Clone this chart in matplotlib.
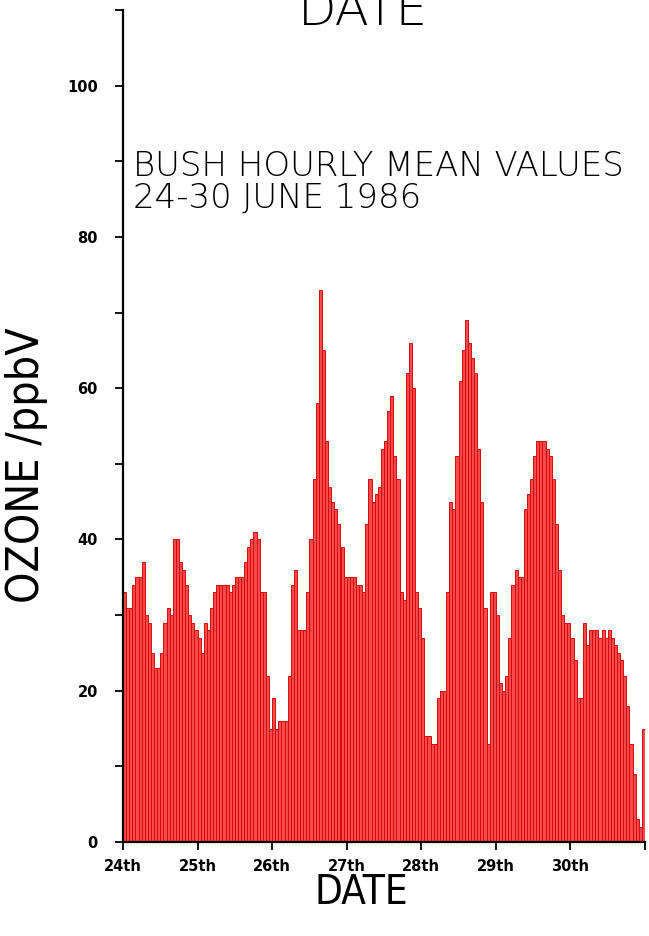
import matplotlib
matplotlib.use("Agg")
import matplotlib.pyplot as plt
import numpy as np

# hourly mean ozone (ppbV), Bush, 24-30 June 1986, one list per day (24 values each)
day24 = [33, 31, 31, 34, 35, 35, 37, 30, 29, 25, 23, 23, 25, 29, 31, 30, 40, 40, 37, 36, 34, 30, 29, 28]
day25 = [27, 25, 29, 28, 31, 33, 34, 34, 34, 34, 33, 34, 35, 35, 35, 37, 39, 40, 41, 40, 33, 33, 22, 15]
day26 = [19, 15, 16, 16, 16, 22, 34, 36, 28, 28, 28, 33, 40, 48, 58, 73, 65, 53, 47, 45, 44, 42, 39, 35]
day27 = [35, 35, 35, 34, 34, 33, 42, 48, 45, 46, 47, 52, 53, 57, 59, 51, 48, 33, 32, 62, 66, 60, 33, 31]
day28 = [27, 14, 14, 13, 13, 19, 20, 20, 33, 45, 44, 51, 61, 65, 69, 66, 64, 62, 52, 45, 31, 13, 33, 33]
day29 = [30, 21, 20, 22, 27, 34, 36, 35, 35, 44, 46, 48, 51, 53, 53, 53, 52, 51, 48, 42, 36, 30, 29, 29]
day30 = [27, 24, 19, 19, 29, 26, 28, 28, 28, 27, 28, 27, 28, 27, 26, 25, 24, 22, 18, 13, 9, 3, 2, 15]

day_labels = ["24th", "25th", "26th", "27th", "28th", "29th", "30th", ""]

ozone = np.array(day24 + day25 + day26 + day27 + day28 + day29 + day30)
hours = np.arange(len(ozone))

W, H = 649, 936
fig = plt.figure(figsize=(W / 100, H / 100), dpi=100)
ax = fig.add_axes([123 / W, 94 / H, 522 / W, 832 / H])

ax.bar(hours, ozone, width=1.0, align="edge",
       color="#f44a4a", edgecolor="#d80808", linewidth=0.7)

ax.set_xlim(0, 168)
ax.set_ylim(0, 110)

for s in ("top", "right"):
    ax.spines[s].set_visible(False)
for s in ("left", "bottom"):
    ax.spines[s].set_linewidth(1.6)
    ax.spines[s].set_color("black")

ax.set_xticks(np.arange(0, 169, 24))
ax.set_xticklabels(day_labels, fontsize=10.5, fontweight="bold")
ax.set_yticks(np.arange(0, 101, 20))
ax.set_yticklabels([str(v) for v in range(0, 101, 20)], fontsize=10.5, fontweight="bold")
ax.set_yticks(np.arange(10, 111, 20), minor=True)
ax.tick_params(axis="both", which="both", direction="out", length=6, width=1.3, colors="black")
ax.tick_params(axis="y", which="major", pad=12)
ax.tick_params(axis="x", which="major", pad=6)

txt = dict(color="black", fontweight="light", family=["DejaVu Sans"])
# title block inside the axes, two tight lines in one text
ax.text(3.2, 83.8, "BUSH HOURLY MEAN VALUES\n24-30 JUNE 1986", fontsize=24.5,
        va="baseline", linespacing=0.95, **txt)

# axis labels (narrow lettering like the plotter font)
fig.text(361 / W, 1 - 904 / H, "DATE", fontsize=29, ha="center", va="baseline",
         fontstretch="condensed", **txt)
fig.text(363 / W, 1 - 25 / H, "DATE", fontsize=36, ha="center", va="baseline", **txt)
fig.text(27 / W, 1 - 465 / H, "OZONE /ppbV", fontsize=32, rotation=90,
         ha="center", va="center", fontstretch="condensed", **txt)

fig.savefig("out.png", dpi=100, facecolor="white")
